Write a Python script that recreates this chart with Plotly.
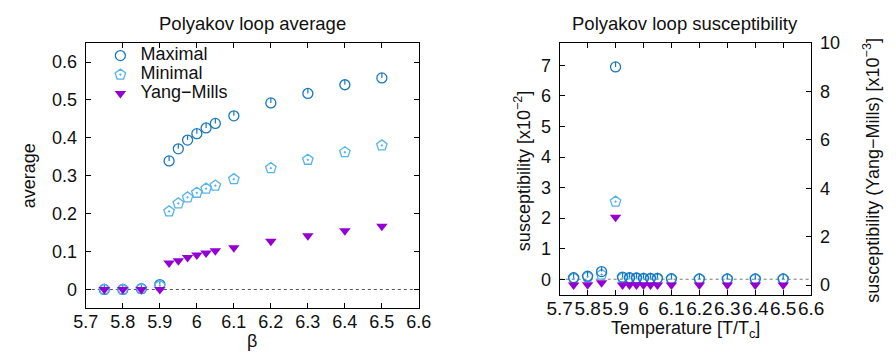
import plotly.graph_objects as go

# ---------------- data ----------------
beta = [5.75, 5.8, 5.85, 5.9, 5.925, 5.95, 5.975, 6.0, 6.025, 6.05, 6.1, 6.2, 6.3, 6.4, 6.5]

avg_maximal = [0.000, 0.000, 0.002, 0.013, 0.339, 0.371, 0.394, 0.411, 0.426, 0.438, 0.458, 0.492, 0.517, 0.540, 0.558]
avg_minimal = [0.000, 0.000, 0.002, 0.010, 0.206, 0.227, 0.243, 0.255, 0.266, 0.274, 0.291, 0.320, 0.342, 0.362, 0.380]
avg_ym      = [0.000, 0.000, 0.000, 0.000, 0.070, 0.076, 0.084, 0.091, 0.096, 0.102, 0.110, 0.127, 0.142, 0.155, 0.167]

sus_maximal = [0.05, 0.10, 0.25, 6.95, 0.07, 0.05, 0.04, 0.03, 0.03, 0.03, 0.02, 0.01, 0.01, 0.01, 0.01]  # x10^-2
sus_minimal = [0.03, 0.08, 0.15, 2.54, 0.04, 0.03, 0.03, 0.02, 0.02, 0.02, 0.01, 0.01, 0.01, 0.01, 0.01]  # x10^-2
sus_ym      = [0.01, 0.02, 0.10, 2.80, 0.01, 0.01, 0.01, 0.01, 0.01, 0.01, 0.01, 0.01, 0.01, 0.01, 0.01]  # x10^-3

x_ticks = [5.7, 5.8, 5.9, 6.0, 6.1, 6.2, 6.3, 6.4, 6.5, 6.6]
x_ticklabels = ["5.7", "5.8", "5.9", "6", "6.1", "6.2", "6.3", "6.4", "6.5", "6.6"]
avg_ticks = [0, 0.1, 0.2, 0.3, 0.4, 0.5, 0.6]
avg_ticklabels = ["0", "0.1", "0.2", "0.3", "0.4", "0.5", "0.6"]
sus_ticks = [0, 1, 2, 3, 4, 5, 6, 7]
sus_ym_ticks = [0, 2, 4, 6, 8, 10]

series_names = ["Maximal", "Minimal", "Yang\u2212Mills"]

# ---------------- style ----------------
C_MAX = "#1a78bf"
C_MIN = "#56b4e9"
C_YM = "#9400d3"
FONT = "Liberation Sans"
W, H = 896, 358

# plot boxes in pixels
L1, R1, T1, B1 = 75, 418, 34, 307
L2, R2, T2, B2 = 563, 822, 34, 293

yr1 = [-0.05, 0.65]
yr2 = [-0.51, 7.73]
yr3 = [-0.4, 10]

def tick_err(rng, top, bottom, px=5.0):
    return px * (rng[1] - rng[0]) / (bottom - top)

e1 = tick_err(yr1, T1, B1)
e2 = tick_err(yr2, T2, B2)

fig = go.Figure()

def legend_label(name):
    return "<span style='font-size:18px'>" + name + "</span>"

def max_trace(x, y, e, xa, ya, show):
    return go.Scatter(
        x=x, y=y, mode="markers", name=legend_label(series_names[0]), xaxis=xa, yaxis=ya,
        showlegend=show, legendgroup="max",
        marker=dict(symbol="circle-open", size=10, color=C_MAX, line=dict(width=1.3, color=C_MAX)),
        error_y=dict(type="data", symmetric=False, array=[e] * len(x), arrayminus=[0] * len(x),
                     width=0, thickness=1.2, color=C_MAX),
    )

def min_trace(x, y, xa, ya, show):
    return go.Scatter(
        x=x, y=y, mode="markers", name=legend_label(series_names[1]), xaxis=xa, yaxis=ya,
        showlegend=show, legendgroup="min",
        marker=dict(symbol="pentagon-open-dot", size=11, color=C_MIN, line=dict(width=1.3, color=C_MIN)),
    )

def ym_trace(x, y, xa, ya, show):
    return go.Scatter(
        x=x, y=y, mode="markers", name=legend_label(series_names[2]), xaxis=xa, yaxis=ya,
        showlegend=show, legendgroup="ym",
        marker=dict(symbol="triangle-down", size=10, color=C_YM, line=dict(width=0)),
    )

# left panel
fig.add_trace(max_trace(beta, avg_maximal, e1, "x", "y", True))
fig.add_trace(min_trace(beta, avg_minimal, "x", "y", True))
fig.add_trace(ym_trace(beta, avg_ym, "x", "y", True))
# right panel
fig.add_trace(ym_trace(beta, sus_ym, "x2", "y3", False))
fig.add_trace(min_trace(beta, sus_minimal, "x2", "y2", False))
fig.add_trace(max_trace(beta, sus_maximal, e2, "x2", "y2", False))

axis_common = dict(
    showline=True, linecolor="black", linewidth=1.3, ticks="inside", ticklen=5,
    tickcolor="black", tickwidth=1, showgrid=False, zeroline=False,
    tickfont=dict(family=FONT, size=18, color="#111"), tickangle=0,
)

fig.update_layout(
    width=W, height=H, margin=dict(l=0, r=0, t=0, b=0),
    paper_bgcolor="white", plot_bgcolor="white",
    font=dict(family=FONT, size=18, color="#111"),
    showlegend=True,
    legend=dict(x=90 / W, y=1 - 32 / H, xanchor="left", yanchor="top",
                bgcolor="rgba(0,0,0,0)", font=dict(family=FONT, size=11, color="#111"),
                itemwidth=30, tracegroupgap=0),
    xaxis=dict(axis_common, domain=[L1 / W, R1 / W], range=[5.7, 6.6], anchor="y",
               tickvals=x_ticks, ticktext=x_ticklabels, mirror="ticks", ticklabelstandoff=-3),
    yaxis=dict(axis_common, domain=[1 - B1 / H, 1 - T1 / H], range=yr1, anchor="x",
               tickvals=avg_ticks, ticktext=avg_ticklabels, mirror="ticks", ticklabelstandoff=4),
    xaxis2=dict(axis_common, domain=[L2 / W, R2 / W], range=[5.7, 6.6], anchor="y2",
                tickvals=x_ticks, ticktext=x_ticklabels, mirror="ticks", ticklabelstandoff=-4,
                tickfont=dict(family=FONT, size=19, color="#111")),
    yaxis2=dict(axis_common, domain=[1 - B2 / H, 1 - T2 / H], range=yr2, anchor="x2",
                tickvals=sus_ticks, mirror=True, ticklabelstandoff=4),
    yaxis3=dict(axis_common, range=yr3, anchor="x2", overlaying="y2", side="right",
                tickvals=sus_ym_ticks, ticklabelstandoff=4),
)

# dotted zero lines
fig.add_shape(type="line", xref="x domain", yref="y", x0=0, x1=1, y0=0, y1=0,
              line=dict(color="#555", width=1, dash="dot"), layer="below")
fig.add_shape(type="line", xref="x2 domain", yref="y2", x0=0, x1=1, y0=0, y1=0,
              line=dict(color="#777", width=1, dash="dot"), layer="below")

def ann(text, x, y, angle=0, size=18):
    fig.add_annotation(text=text, xref="paper", yref="paper", x=x / W, y=1 - y / H,
                       xanchor="center", yanchor="middle", showarrow=False, textangle=angle,
                       font=dict(family=FONT, size=size, color="#111"))

ann("Polyakov loop average", (L1 + R1) / 2, 14, size=18.5)
ann("Polyakov loop susceptibility", (L2 + R2) / 2, 14, size=18.5)
ann("average", 16, (T1 + B1) / 2, angle=-90)
ann("\u03b2", (L1 + R1) / 2, 341)
ann("Temperature [T/T<sub>c</sub>]", (L2 + R2) / 2, 329)
ann("susceptibility [x10<sup>\u22122</sup>]", 525, 166, angle=-90)
ann("susceptibility (Yang\u2212Mills) [x10<sup>\u22123</sup>]", 884, 165, angle=-90)

fig.write_html("out.html", config={"displayModeBar": False})

# remove the default page margin so the figure sits at the window's top-left corner
with open("out.html", "r", encoding="utf-8") as f:
    page = f.read()
page = page.replace("<head>", "<head><style>html,body{margin:0;padding:0;overflow:hidden;}</style>", 1)
with open("out.html", "w", encoding="utf-8") as f:
    f.write(page)
